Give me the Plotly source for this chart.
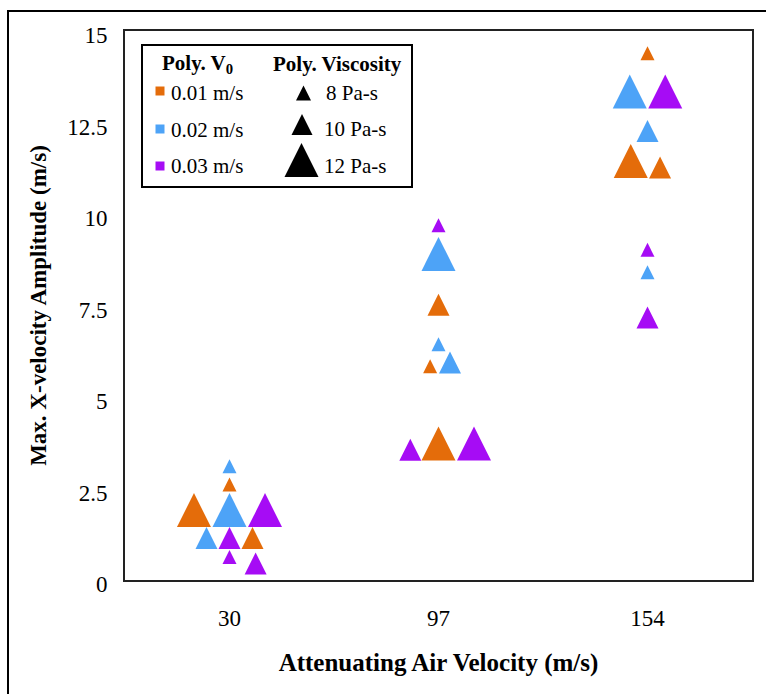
import plotly.graph_objects as go

# ---------------- data ----------------
categories = ["30", "97", "154"]          # attenuating air velocity (m/s)
v0_labels = ["0.01 m/s", "0.02 m/s", "0.03 m/s"]
viscosity_labels = ["8 Pa-s", "10 Pa-s", "12 Pa-s"]
viscosity_values = [8, 10, 12]

# Poly. V0 = 0.01 m/s
orange_cat = ["30", "30", "30", "97", "97", "97", "154", "154", "154"]
orange_offset = [-0.17, 0.0, 0.11, 0.0, -0.04, 0.0, 0.0, -0.08, 0.06]
orange_visc = [12, 8, 10, 10, 8, 12, 8, 12, 10]
orange_amp = [1.91, 2.61, 1.15, 7.52, 5.84, 3.73, 14.39, 11.45, 11.27]

# Poly. V0 = 0.02 m/s
blue_cat = ["30", "30", "30", "97", "97", "97", "154", "154", "154"]
blue_offset = [0.0, 0.0, -0.11, 0.0, 0.0, 0.055, -0.085, 0.0, 0.0]
blue_visc = [8, 12, 10, 12, 8, 10, 12, 10, 8]
blue_amp = [3.11, 1.91, 1.15, 8.91, 6.44, 5.94, 13.35, 12.27, 8.41]

# Poly. V0 = 0.03 m/s
purple_cat = ["30", "30", "30", "30", "97", "97", "97", "154", "154", "154"]
purple_offset = [0.17, 0.0, 0.0, 0.125, 0.0, -0.135, 0.17, 0.085, 0.0, 0.0]
purple_visc = [12, 10, 8, 10, 8, 10, 12, 12, 8, 10]
purple_amp = [1.91, 1.15, 0.63, 0.45, 9.69, 3.56, 3.73, 13.35, 9.02, 7.17]

y_ticks = [0, 2.5, 5, 7.5, 10, 12.5, 15]

# ---------------- style ----------------
colors = ["#E46C0A", "#4DA3F7", "#A60CF5"]
marker_px = {8: 14, 10: 22, 12: 34}
legend_tri_px = [15, 21, 34]
FONT = "Liberation Serif, Times New Roman, serif"

W, H = 766, 694
L, R, T, B = 125, 752, 31, 580   # plot area in pixels


def xp(px):
    return (px - L) / (R - L)


def yp(py):
    return (B - py) / (B - T)


fig = go.Figure()

series = [
    (orange_cat, orange_offset, orange_visc, orange_amp),
    (blue_cat, blue_offset, blue_visc, blue_amp),
    (purple_cat, purple_offset, purple_visc, purple_amp),
]
for (cats, offs, visc, amp), col, name in zip(series, colors, v0_labels):
    xs = [categories.index(c) + 1 + o for c, o in zip(cats, offs)]
    sizes = [marker_px[v] for v in visc]
    fig.add_trace(go.Scatter(
        x=xs, y=amp, mode="markers", name=name, showlegend=False,
        marker=dict(symbol="arrow-down", angle=180, size=sizes, opacity=1,
                    standoff=[s / 2 for s in sizes], color=col,
                    line=dict(width=0)),
        cliponaxis=False,
    ))

# ---- custom legend (drawn in a pixel-space overlay axis) ----
leg_sq_x = 160
leg_rows_y = [91, 129, 166]
fig.add_trace(go.Scatter(
    x=[leg_sq_x] * 3, y=leg_rows_y, mode="markers", showlegend=False,
    xaxis="x2", yaxis="y2",
    marker=dict(symbol="square", size=9, color=colors, opacity=1,
                line=dict(width=0)),
))
leg_tri_x = [303.5, 302, 301.5]
leg_tri_y = [93, 124.5, 160]
fig.add_trace(go.Scatter(
    x=leg_tri_x, y=leg_tri_y, mode="markers", showlegend=False,
    xaxis="x2", yaxis="y2",
    marker=dict(symbol="arrow-down", angle=180, size=legend_tri_px, opacity=1,
                standoff=[s / 2 for s in legend_tri_px], color="black",
                line=dict(width=0)),
))

annotations = [
    dict(x=197, y=64, text="<b>Poly. V<sub>0</sub></b>", xanchor="center"),
    dict(x=337.5, y=64, text="<b>Poly. Viscosity</b>", xanchor="center"),
]
for lab, yy in zip(v0_labels, [93, 130, 166]):
    annotations.append(dict(x=169, y=yy, text=lab, xanchor="left"))
for lab, yy, xx in zip(viscosity_labels, [93, 129, 166], [324, 322, 322]):
    annotations.append(dict(x=xx, y=yy, text=lab, xanchor="left"))
for a in annotations:
    a.update(xref="x2", yref="y2", yanchor="middle", showarrow=False,
             font=dict(family=FONT, size=21, color="black"))

shapes = [
    # legend box
    dict(type="rect", xref="paper", yref="paper",
         x0=xp(142), x1=xp(412), y0=yp(187), y1=yp(45),
         line=dict(color="black", width=2), fillcolor="rgba(0,0,0,0)"),
    # outer chart frame
    dict(type="rect", xref="paper", yref="paper",
         x0=xp(8), x1=xp(780), y0=yp(710), y1=yp(11),
         line=dict(color="black", width=2), fillcolor="rgba(0,0,0,0)"),
]

fig.update_layout(
    width=W, height=H,
    margin=dict(l=L, r=W - R, t=T, b=H - B, pad=0),
    paper_bgcolor="white", plot_bgcolor="white",
    font=dict(family=FONT, size=23, color="black"),
    showlegend=False,
    xaxis=dict(
        range=[0.5, 3.5], tickmode="array", tickvals=[1, 2, 3],
        ticktext=categories, showgrid=False, zeroline=False,
        showline=True, mirror=True, linecolor="#222", linewidth=2,
        ticks="outside", ticklen=16, tickcolor="rgba(0,0,0,0)",
        tickfont=dict(family=FONT, size=23, color="black"),
        title=dict(text="<b>Attenuating Air Velocity (m/s)</b>",
                   font=dict(family=FONT, size=25, color="black"), standoff=24),
        fixedrange=True,
    ),
    yaxis=dict(
        range=[0, 15], tickmode="array", tickvals=y_ticks,
        ticktext=[("%g" % v) for v in y_ticks], showgrid=False, zeroline=False,
        showline=True, mirror=True, linecolor="#222", linewidth=2,
        ticks="outside", ticklen=11, tickcolor="rgba(0,0,0,0)",
        ticklabelshift=4,
        tickfont=dict(family=FONT, size=23, color="black"),
        title=dict(text="<b>Max. X-velocity Amplitude (m/s)</b>",
                   font=dict(family=FONT, size=23, color="black"), standoff=14),
        fixedrange=True,
    ),
    xaxis2=dict(range=[L, R], overlaying="x", visible=False, fixedrange=True),
    yaxis2=dict(range=[B, T], overlaying="y", visible=False, fixedrange=True),
    annotations=annotations,
    shapes=shapes,
)

fig.write_html("out.html")
